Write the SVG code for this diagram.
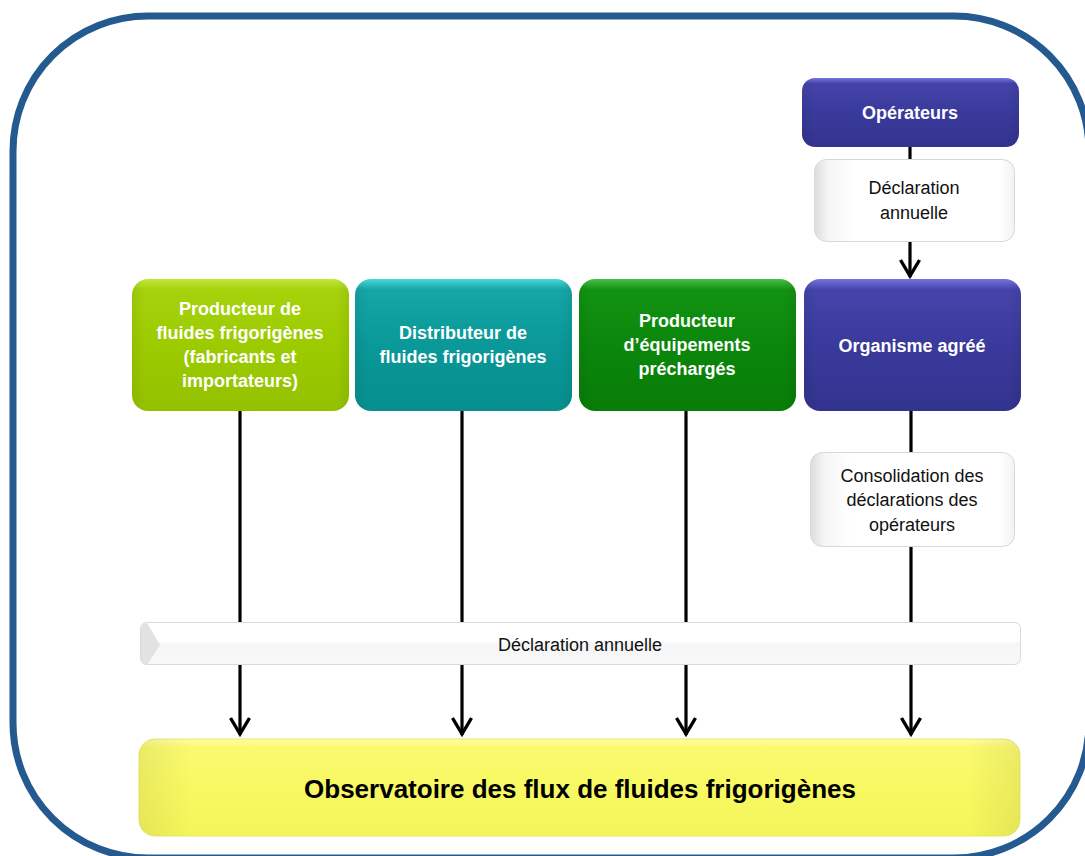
<svg xmlns="http://www.w3.org/2000/svg" width="1085" height="856" viewBox="0 0 1085 856">
<style>
.frame{fill:none;stroke:#245a8f;stroke-width:7}
.conn{stroke:#000;stroke-width:3.2;fill:none}
.tw{font-family:"Liberation Sans",Arial,sans-serif;font-weight:bold;font-size:18px;fill:#fff;text-anchor:middle}
.tb{font-family:"Liberation Sans",Arial,sans-serif;font-size:18px;fill:#111;text-anchor:middle}
.tt{font-family:"Liberation Sans",Arial,sans-serif;font-weight:bold;font-size:26px;fill:#000;text-anchor:middle}
.gloss{fill:url(#gloss)}
.wbox{fill:url(#gWhite);stroke:#d8d8d8;stroke-width:1}
.edge{fill:none;stroke-width:1}
</style>
<defs>
<linearGradient id="gLime" x1="0" y1="0" x2="0" y2="1"><stop offset="0" stop-color="#c2e83a"/><stop offset="0.08" stop-color="#a6d20c"/><stop offset="0.5" stop-color="#9ccb00"/><stop offset="1" stop-color="#93c100"/></linearGradient>
<linearGradient id="gTeal" x1="0" y1="0" x2="0" y2="1"><stop offset="0" stop-color="#49d6d8"/><stop offset="0.08" stop-color="#15a6a6"/><stop offset="0.5" stop-color="#0a9898"/><stop offset="1" stop-color="#088e8e"/></linearGradient>
<linearGradient id="gGreen" x1="0" y1="0" x2="0" y2="1"><stop offset="0" stop-color="#46c046"/><stop offset="0.08" stop-color="#129212"/><stop offset="0.5" stop-color="#0b870b"/><stop offset="1" stop-color="#087c08"/></linearGradient>
<linearGradient id="gIndigo" x1="0" y1="0" x2="0" y2="1"><stop offset="0" stop-color="#7474e0"/><stop offset="0.08" stop-color="#4444aa"/><stop offset="0.5" stop-color="#3a3a9c"/><stop offset="1" stop-color="#33338f"/></linearGradient>
<linearGradient id="gYellow" x1="0" y1="0" x2="0" y2="1"><stop offset="0" stop-color="#fefea8"/><stop offset="0.08" stop-color="#fafa70"/><stop offset="0.5" stop-color="#f8f862"/><stop offset="1" stop-color="#f4f45a"/></linearGradient>
<linearGradient id="gWhite" x1="0" y1="0" x2="1" y2="0"><stop offset="0" stop-color="#dcdcdc"/><stop offset="0.07" stop-color="#f6f6f6"/><stop offset="0.2" stop-color="#ffffff"/><stop offset="0.93" stop-color="#ffffff"/><stop offset="1" stop-color="#f2f2f2"/></linearGradient>
<linearGradient id="gBar" x1="0" y1="0" x2="0" y2="1"><stop offset="0" stop-color="#ffffff"/><stop offset="0.45" stop-color="#ffffff"/><stop offset="0.5" stop-color="#f6f6f6"/><stop offset="1" stop-color="#f8f8f8"/></linearGradient>
<linearGradient id="gloss" x1="0" y1="0" x2="1" y2="0"><stop offset="0" stop-color="#000" stop-opacity="0.06"/><stop offset="0.06" stop-color="#000" stop-opacity="0"/><stop offset="0.94" stop-color="#000" stop-opacity="0"/><stop offset="1" stop-color="#000" stop-opacity="0.06"/></linearGradient>
<marker id="chev" viewBox="-20 -12 24 24" refX="1" refY="0" markerWidth="24" markerHeight="24" markerUnits="userSpaceOnUse" orient="auto">
<path d="M-16,-9.5 L0,0 L-16,9.5" fill="none" stroke="#000" stroke-width="3.4" stroke-linejoin="miter"/>
</marker>
</defs>
<rect width="1085" height="856" fill="#fff"/>
<rect class="frame" x="13" y="16" width="1076" height="842" rx="135" ry="135"/>
<g id="connectors">
<line class="conn" x1="910" y1="147" x2="910" y2="277" marker-end="url(#chev)"/>
<line class="conn" x1="240" y1="410" x2="240" y2="735" marker-end="url(#chev)"/>
<line class="conn" x1="462" y1="410" x2="462" y2="735" marker-end="url(#chev)"/>
<line class="conn" x1="686" y1="410" x2="686" y2="735" marker-end="url(#chev)"/>
<line class="conn" x1="911" y1="410" x2="911" y2="735" marker-end="url(#chev)"/>
</g>
<g id="operateurs">
<rect x="802" y="78" width="217" height="69" rx="13" fill="url(#gIndigo)"/>
<rect x="802" y="78" width="217" height="69" rx="13" class="gloss"/>
<text class="tw" x="910" y="119">Opérateurs</text>
</g>
<g id="declaration-op">
<rect class="wbox" x="814.5" y="159.5" width="200" height="82" rx="12"/>
<text class="tb" x="914" y="194">Déclaration</text>
<text class="tb" x="914" y="219">annuelle</text>
</g>
<g id="producteur-fluides">
<rect x="132" y="279" width="217" height="132" rx="16" fill="url(#gLime)"/>
<rect x="132" y="279" width="217" height="132" rx="16" class="gloss"/>
<text class="tw" x="240" y="315">Producteur de</text>
<text class="tw" x="240" y="339">fluides frigorigènes</text>
<text class="tw" x="240" y="363">(fabricants et</text>
<text class="tw" x="240" y="387">importateurs)</text>
</g>
<g id="distributeur">
<rect x="355" y="279" width="217" height="132" rx="16" fill="url(#gTeal)"/>
<rect x="355" y="279" width="217" height="132" rx="16" class="gloss"/>
<text class="tw" x="463" y="339">Distributeur de</text>
<text class="tw" x="463" y="363">fluides frigorigènes</text>
</g>
<g id="producteur-equipements">
<rect x="579" y="279" width="217" height="132" rx="16" fill="url(#gGreen)"/>
<rect x="579" y="279" width="217" height="132" rx="16" class="gloss"/>
<text class="tw" x="687" y="327">Producteur</text>
<text class="tw" x="687" y="351">d’équipements</text>
<text class="tw" x="687" y="375">préchargés</text>
</g>
<g id="organisme">
<rect x="804" y="279" width="217" height="132" rx="16" fill="url(#gIndigo)"/>
<rect x="804" y="279" width="217" height="132" rx="16" class="gloss"/>
<text class="tw" x="912" y="352">Organisme agréé</text>
</g>
<g id="consolidation">
<rect class="wbox" x="810.5" y="452.5" width="204" height="94" rx="12"/>
<text class="tb" x="912" y="482">Consolidation des</text>
<text class="tb" x="912" y="506">déclarations des</text>
<text class="tb" x="912" y="531">opérateurs</text>
</g>
<g id="declaration-bar">
<rect x="140.5" y="622.5" width="880" height="42" rx="6" fill="url(#gBar)" stroke="#dadada" stroke-width="1"/>
<path d="M141,629 Q141,623 147,623 L160,645 L147,665 Q141,665 141,659 Z" fill="#e2e2e2"/>
<text class="tb" x="580" y="651">Déclaration annuelle</text>
</g>
<g id="observatoire">
<rect x="139" y="739" width="881" height="97" rx="16" fill="url(#gYellow)" stroke="#e8e86a" stroke-width="1"/>
<rect x="139" y="739" width="881" height="97" rx="16" class="gloss"/>
<text class="tt" x="580" y="798">Observatoire des flux de fluides frigorigènes</text>
</g>
</svg>
